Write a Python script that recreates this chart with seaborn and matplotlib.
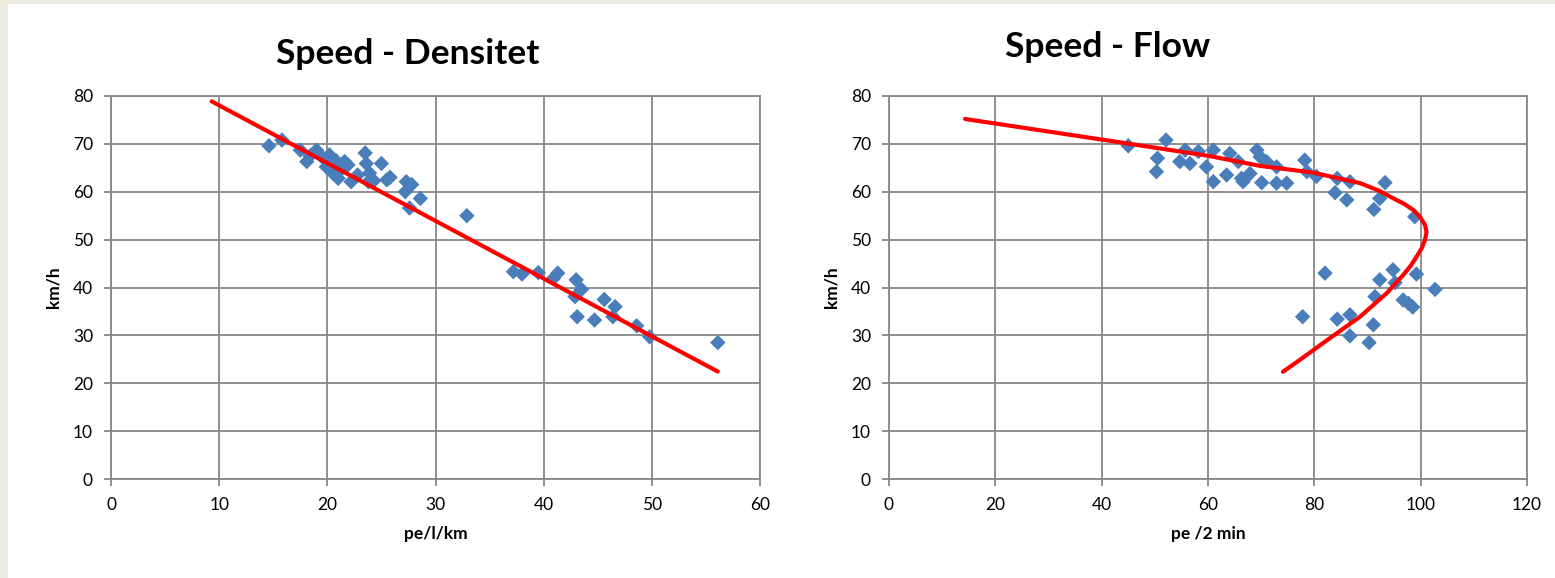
import matplotlib
matplotlib.use("Agg")
import matplotlib.pyplot as plt
from matplotlib.patches import Rectangle
import seaborn as sns
import pandas as pd
import numpy as np

# ---------------- data ----------------
density = [14.6, 15.8, 17.5, 18.1, 18.4, 19.0, 19.5, 20.2, 19.9, 20.5, 20.8, 21.0,
           21.2, 21.6, 21.9, 22.2, 23.5, 23.6, 22.8, 23.9, 23.8, 24.3, 25.0, 25.5,
           25.8, 27.3, 27.8, 27.2, 28.6, 27.6, 32.9, 37.2, 38.0, 39.5, 40.9, 41.3,
           43.0, 43.5, 42.9, 43.1, 44.7, 45.6, 46.6, 46.4, 48.6, 49.8, 56.1]
speed_d = [69.6, 70.8, 68.7, 66.3, 67.5, 68.7, 67.3, 67.7, 65.2, 63.9, 66.5, 62.8,
           64.5, 66.3, 65.6, 62.1, 68.1, 65.9, 63.5, 63.9, 62.1, 62.3, 65.9, 62.5,
           63.0, 62.1, 61.5, 60.0, 58.6, 56.6, 55.0, 43.3, 42.8, 43.1, 41.9, 43.0,
           41.6, 39.6, 38.1, 33.9, 33.2, 37.5, 36.0, 33.9, 32.0, 29.7, 28.5]

trend_density_range = [9.3, 56.1]
trend_intercept = 90.1
trend_slope = -1.206

flow = [45.0, 52.1, 50.5, 50.3, 54.7, 55.7, 56.6, 58.2, 59.7, 61.0, 61.0, 63.5,
        64.1, 65.7, 66.3, 66.6, 67.9, 69.2, 69.8, 70.1, 71.0, 72.9, 72.9, 74.8,
        78.2, 78.6, 80.4, 84.3, 83.9, 86.1, 86.7, 93.3, 92.3, 91.2, 98.9, 82.0,
        94.8, 92.3, 95.2, 99.2, 102.7, 91.4, 96.7, 97.7, 98.5, 77.8, 84.3, 86.7,
        91.1, 86.7, 90.3]
speed_f = [69.6, 70.8, 67.0, 64.2, 66.3, 68.7, 65.9, 68.4, 65.2, 68.7, 62.1, 63.5,
           68.0, 66.3, 62.8, 62.1, 63.8, 68.7, 67.3, 61.9, 66.3, 65.2, 61.8, 61.8,
           66.6, 64.2, 63.2, 62.8, 59.8, 58.3, 62.1, 61.9, 58.6, 56.3, 54.8, 43.0,
           43.7, 41.6, 41.0, 42.8, 39.6, 38.1, 37.4, 36.7, 35.9, 33.9, 33.4, 34.3,
           32.2, 29.9, 28.5]

curve_flow = [14.3, 20.3, 40.0, 60.1, 69.8, 79.8, 88.6, 92.0, 94.9, 97.0, 98.6,
              99.9, 100.8, 101.1, 100.8, 100.2, 99.2, 98.1, 96.7, 93.6, 88.6,
              82.4, 77.3, 74.1]
curve_speed = [75.2, 74.2, 70.9, 67.5, 65.4, 64.0, 61.8, 60.3, 58.6, 57.4, 56.2,
               54.7, 53.1, 51.6, 49.9, 48.2, 46.4, 44.5, 42.6, 38.8, 33.9,
               29.0, 24.9, 22.4]

left_xticks = [0, 10, 20, 30, 40, 50, 60]
right_xticks = [0, 20, 40, 60, 80, 100, 120]
yticks = [0, 10, 20, 30, 40, 50, 60, 70, 80]

# ---------------- style ----------------
sns.set_theme(style="white")
plt.rcParams['font.family'] = ['Lato', 'DejaVu Sans']
plt.rcParams['text.color'] = 'black'
plt.rcParams['axes.labelcolor'] = 'black'

W, H = 1555, 578
fig = plt.figure(figsize=(W / 100, H / 100), dpi=100)
fig.patch.set_facecolor('#EEECE1')
fig.patches.append(Rectangle((8 / W, 0), 1, 1 - 4 / H, transform=fig.transFigure,
                             facecolor='white', edgecolor='none', zorder=-10))

ax1 = fig.add_axes([111 / W, 1 - 479 / H, 649 / W, 383 / H])
ax2 = fig.add_axes([889 / W, 1 - 479 / H, 638 / W, 383 / H])

blue = '#4A7EBB'
gridc = '#878787'

df_d = pd.DataFrame({'density': density, 'speed': speed_d})
df_f = pd.DataFrame({'flow': flow, 'speed': speed_f})
tx = np.array(trend_density_range)
df_t = pd.DataFrame({'density': tx, 'speed': trend_intercept + trend_slope * tx})
df_c = pd.DataFrame({'flow': curve_flow, 'speed': curve_speed})

sns.scatterplot(data=df_d, x='density', y='speed', marker='D', s=62, color=blue,
                edgecolor='none', ax=ax1, zorder=3)
sns.lineplot(data=df_t, x='density', y='speed', color='red', lw=3.0, ax=ax1,
             zorder=4, estimator=None)

sns.scatterplot(data=df_f, x='flow', y='speed', marker='D', s=62, color=blue,
                edgecolor='none', ax=ax2, zorder=3)
sns.lineplot(data=df_c, x='flow', y='speed', color='red', lw=3.0, ax=ax2,
             zorder=4, sort=False, estimator=None)

for ax, xt, xl in [(ax1, left_xticks, 'pe/l/km'), (ax2, right_xticks, 'pe /2 min')]:
    ax.set_facecolor('white')
    ax.set_xlim(xt[0], xt[-1])
    ax.set_ylim(0, 80)
    ax.set_xticks(xt)
    ax.set_yticks(yticks)
    ax.grid(True, color=gridc, lw=1.3)
    ax.set_axisbelow(True)
    for sp in ax.spines.values():
        sp.set_color(gridc)
        sp.set_linewidth(1.3)
    ax.tick_params(direction='out', length=5, width=1.3, color=gridc,
                   labelsize=12.5, pad=8, labelcolor='black',
                   bottom=True, left=True)
    ax.set_xlabel(xl, fontsize=12.5, fontweight='bold', labelpad=9, color='black')
    ax.set_ylabel('km/h', fontsize=12.5, fontweight='bold', labelpad=8, color='black')

fig.text(408 / W, 1 - 64 / H, 'Speed - Densitet', ha='center', va='baseline',
         fontsize=25.5, fontweight='bold', color='black')
fig.text(1108 / W, 1 - 57 / H, 'Speed - Flow', ha='center', va='baseline',
         fontsize=25.5, fontweight='bold', color='black')

fig.savefig('out.png', dpi=100, facecolor=fig.get_facecolor())
